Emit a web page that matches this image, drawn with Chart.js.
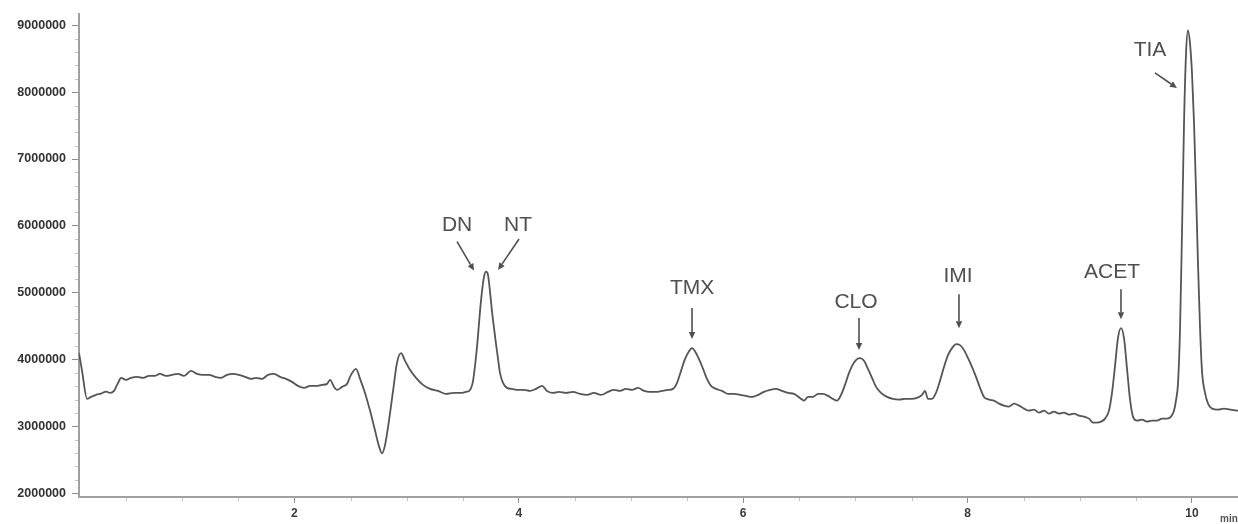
<!DOCTYPE html>
<html>
<head>
<meta charset="utf-8">
<script src="https://cdn.jsdelivr.net/npm/chart.js@4/dist/chart.umd.min.js"></script>
<style>
  html, body { margin: 0; padding: 0; background: #ffffff; }
  #wrap { width: 1238px; height: 524px; overflow: hidden; }
</style>
</head>
<body>
<div id="wrap"><canvas id="chrom" width="1238" height="524"></canvas></div>
<script>
// Retention time (min) of each sampled point of the trace
const retentionTime = [
  0.080, 0.107, 0.152, 0.187, 0.232, 0.276, 0.321, 0.357, 0.392, 0.428,
  0.455, 0.499, 0.544, 0.597, 0.651, 0.704, 0.758, 0.802, 0.856, 0.909,
  0.963, 1.016, 1.078, 1.132, 1.185, 1.239, 1.292, 1.346, 1.399, 1.453,
  1.506, 1.560, 1.613, 1.658, 1.711, 1.765, 1.818, 1.872, 1.925, 1.979,
  2.032, 2.086, 2.139, 2.193, 2.246, 2.291, 2.317, 2.353, 2.380, 2.424,
  2.469, 2.504, 2.549, 2.585, 2.629, 2.674, 2.718, 2.754, 2.781, 2.807,
  2.843, 2.879, 2.914, 2.950, 2.986, 3.030, 3.084, 3.146, 3.209, 3.280,
  3.351, 3.422, 3.494, 3.529, 3.565, 3.592, 3.619, 3.636, 3.654, 3.672,
  3.690, 3.708, 3.725, 3.743, 3.761, 3.779, 3.797, 3.815, 3.832, 3.859,
  3.895, 3.939, 3.993, 4.046, 4.100, 4.153, 4.207, 4.251, 4.305, 4.358,
  4.421, 4.483, 4.545, 4.608, 4.670, 4.733, 4.795, 4.848, 4.902, 4.955,
  5.009, 5.062, 5.116, 5.169, 5.223, 5.276, 5.330, 5.374, 5.410, 5.446,
  5.481, 5.517, 5.544, 5.570, 5.606, 5.642, 5.677, 5.713, 5.758, 5.811,
  5.865, 5.918, 5.971, 6.025, 6.078, 6.132, 6.185, 6.239, 6.292, 6.346,
  6.399, 6.453, 6.506, 6.542, 6.578, 6.622, 6.667, 6.711, 6.756, 6.800,
  6.836, 6.872, 6.907, 6.943, 6.979, 7.014, 7.041, 7.077, 7.112, 7.148,
  7.184, 7.228, 7.282, 7.335, 7.389, 7.442, 7.496, 7.549, 7.594, 7.620,
  7.647, 7.683, 7.718, 7.754, 7.790, 7.825, 7.861, 7.897, 7.932, 7.968,
  8.004, 8.039, 8.075, 8.111, 8.146, 8.191, 8.235, 8.280, 8.324, 8.369,
  8.414, 8.458, 8.503, 8.547, 8.592, 8.636, 8.681, 8.725, 8.770, 8.815,
  8.859, 8.904, 8.948, 8.993, 9.037, 9.082, 9.118, 9.153, 9.189, 9.225,
  9.260, 9.287, 9.314, 9.340, 9.367, 9.394, 9.421, 9.447, 9.474, 9.510,
  9.554, 9.599, 9.643, 9.688, 9.733, 9.777, 9.813, 9.840, 9.857, 9.875,
  9.893, 9.911, 9.929, 9.947, 9.964, 9.982, 10.000, 10.018, 10.036, 10.053,
  10.071, 10.089, 10.116, 10.143, 10.178, 10.232, 10.285, 10.339, 10.410
];

// Detector response (counts) at each retention time
const signalCounts = [
  4100000, 3830000, 3410000, 3440000, 3470000, 3490000, 3520000, 3500000, 3530000, 3650000,
  3725000, 3695000, 3725000, 3740000, 3725000, 3755000, 3755000, 3785000, 3755000, 3770000,
  3785000, 3755000, 3830000, 3785000, 3770000, 3770000, 3740000, 3725000, 3770000, 3785000,
  3770000, 3740000, 3710000, 3725000, 3710000, 3770000, 3785000, 3740000, 3710000, 3665000,
  3605000, 3575000, 3605000, 3605000, 3620000, 3635000, 3695000, 3590000, 3545000, 3590000,
  3635000, 3770000, 3860000, 3710000, 3500000, 3235000, 2940000, 2700000, 2595000, 2715000,
  3085000, 3530000, 3950000, 4095000, 3980000, 3845000, 3725000, 3620000, 3560000, 3530000,
  3485000, 3500000, 3500000, 3515000, 3545000, 3680000, 4050000, 4350000, 4720000, 5020000,
  5240000, 5315000, 5270000, 5020000, 4720000, 4470000, 4230000, 4005000, 3800000, 3650000,
  3575000, 3560000, 3545000, 3545000, 3530000, 3560000, 3605000, 3530000, 3500000, 3515000,
  3500000, 3515000, 3485000, 3470000, 3500000, 3470000, 3515000, 3545000, 3530000, 3560000,
  3545000, 3575000, 3530000, 3515000, 3515000, 3530000, 3545000, 3560000, 3650000, 3830000,
  4005000, 4125000, 4170000, 4125000, 4005000, 3860000, 3710000, 3605000, 3560000, 3530000,
  3485000, 3485000, 3470000, 3455000, 3440000, 3470000, 3515000, 3545000, 3560000, 3530000,
  3500000, 3485000, 3425000, 3385000, 3440000, 3440000, 3485000, 3485000, 3455000, 3410000,
  3385000, 3470000, 3620000, 3800000, 3930000, 4005000, 4020000, 3980000, 3860000, 3725000,
  3590000, 3500000, 3440000, 3410000, 3400000, 3410000, 3410000, 3425000, 3470000, 3530000,
  3410000, 3410000, 3500000, 3680000, 3890000, 4065000, 4170000, 4230000, 4215000, 4140000,
  4020000, 3890000, 3740000, 3575000, 3440000, 3400000, 3385000, 3340000, 3310000, 3295000,
  3340000, 3310000, 3265000, 3235000, 3250000, 3205000, 3235000, 3190000, 3220000, 3190000,
  3205000, 3175000, 3190000, 3160000, 3145000, 3115000, 3055000, 3055000, 3070000, 3115000,
  3235000, 3500000, 3905000, 4320000, 4470000, 4320000, 3860000, 3410000, 3145000, 3085000,
  3100000, 3070000, 3085000, 3085000, 3115000, 3115000, 3145000, 3235000, 3385000, 3635000,
  4425000, 5910000, 7545000, 8585000, 8925000, 8735000, 8285000, 7545000, 6505000, 5465000,
  4500000, 3830000, 3500000, 3340000, 3265000, 3250000, 3265000, 3250000, 3235000
];

// Axis tick labels
const yTickValues = [2000000, 3000000, 4000000, 5000000, 6000000, 7000000, 8000000, 9000000];
const xTickValues = [2, 4, 6, 8, 10];

// Compound labels and the point each arrow points at (min, counts)
const peakNames  = ['DN', 'NT', 'TMX', 'CLO', 'IMI', 'ACET', 'TIA'];
const peakTipTime   = [3.601, 3.815, 5.544, 7.032, 7.923, 9.367, 9.866];
const peakTipSignal = [5330000, 5340000, 4305000, 4141000, 4468000, 4602000, 8064000];

// Arrow tail and label placement relative to the arrow tip (px)
const arrowTail = [[-17, -29], [21, -31], [0, -31], [0, -32], [0, -34], [0, -30], [-22, -15]];
const labelPos  = [[-17, -45], [20, -45], [0, -51], [-3, -48], [-1, -52], [-9, -47], [-27, -38]];

const points = retentionTime.map((t, i) => ({ x: t, y: signalCounts[i] }));

const INK = '#4f4f4f';
const AXIS = '#a0a0a0';

// Short minor ticks along both axes
const minorTicks = {
  id: 'minorTicks',
  afterDraw(chart) {
    const { ctx, scales: { x, y }, chartArea: a } = chart;
    ctx.save();
    ctx.strokeStyle = '#c4c4c4';
    ctx.lineWidth = 1;
    for (let v = 2200000; v < 9200000; v += 200000) {
      if (v % 1000000 === 0) continue;
      const py = Math.round(y.getPixelForValue(v)) + 0.5;
      if (py < a.top || py > a.bottom) continue;
      ctx.beginPath();
      ctx.moveTo(a.left - 4, py);
      ctx.lineTo(a.left - 1, py);
      ctx.stroke();
    }
    for (let k = 1; k <= 20; k++) {
      const v = k * 0.5;
      if (v % 2 === 0) continue;
      const px = Math.round(x.getPixelForValue(v)) + 0.5;
      if (px < a.left || px > a.right) continue;
      ctx.beginPath();
      ctx.moveTo(px, a.bottom + 1);
      ctx.lineTo(px, a.bottom + 4);
      ctx.stroke();
    }
    // unit label at the end of the time axis
    ctx.fillStyle = '#555';
    ctx.font = 'bold 10px "Liberation Sans", Arial, sans-serif';
    ctx.textAlign = 'left';
    ctx.textBaseline = 'middle';
    ctx.fillText('min', a.right - 18, a.bottom + 22);
    ctx.restore();
  }
};

// Compound names with arrows pointing at their peaks
const peakArrows = {
  id: 'peakArrows',
  afterDatasetsDraw(chart) {
    const { ctx, scales: { x, y } } = chart;
    ctx.save();
    ctx.strokeStyle = INK;
    ctx.fillStyle = INK;
    ctx.lineWidth = 1.6;
    ctx.font = '21px "Liberation Sans", Arial, sans-serif';
    ctx.textAlign = 'center';
    ctx.textBaseline = 'middle';
    peakNames.forEach((name, i) => {
      const tx = x.getPixelForValue(peakTipTime[i]);
      const ty = y.getPixelForValue(peakTipSignal[i]);
      const sx = tx + arrowTail[i][0];
      const sy = ty + arrowTail[i][1];
      const ang = Math.atan2(ty - sy, tx - sx);
      const head = 7, half = 3.2;
      const bx = tx - head * Math.cos(ang);
      const by = ty - head * Math.sin(ang);
      ctx.beginPath();
      ctx.moveTo(sx, sy);
      ctx.lineTo(bx, by);
      ctx.stroke();
      ctx.beginPath();
      ctx.moveTo(tx, ty);
      ctx.lineTo(bx + half * Math.sin(ang), by - half * Math.cos(ang));
      ctx.lineTo(bx - half * Math.sin(ang), by + half * Math.cos(ang));
      ctx.closePath();
      ctx.fill();
      ctx.fillText(name, tx + labelPos[i][0], ty + labelPos[i][1]);
    });
    ctx.restore();
  }
};

new Chart(document.getElementById('chrom'), {
  type: 'line',
  data: {
    datasets: [{
      data: points,
      borderColor: '#555555',
      borderWidth: 1.8,
      pointRadius: 0,
      fill: false,
      tension: 0,
      cubicInterpolationMode: 'monotone'
    }]
  },
  options: {
    responsive: false,
    animation: false,
    devicePixelRatio: 1,
    layout: { padding: { top: 10, left: 0, right: 0, bottom: 0 } },
    plugins: { legend: { display: false }, tooltip: { enabled: false } },
    scales: {
      x: {
        type: 'linear',
        min: 0.08,
        max: 10.41,
        afterBuildTicks: s => { s.ticks = xTickValues.map(v => ({ value: v })); },
        afterFit: s => { s.height = 27; },
        grid: { drawOnChartArea: false, tickLength: 6, tickColor: '#8c8c8c', tickWidth: 1 },
        border: { color: AXIS, width: 2 },
        ticks: {
          padding: 3,
          maxRotation: 0,
          color: '#3a3a3a',
          font: { family: '"Liberation Sans", Arial, sans-serif', size: 12, weight: 'bold' },
          callback: v => String(v)
        }
      },
      y: {
        min: 1942000,
        max: 9178000,
        afterBuildTicks: s => { s.ticks = yTickValues.map(v => ({ value: v })); },
        afterFit: s => { s.width = 79; },
        grid: { drawOnChartArea: false, tickLength: 7, tickColor: '#8c8c8c', tickWidth: 1 },
        border: { color: AXIS, width: 2 },
        ticks: {
          padding: 6,
          color: '#333333',
          font: { family: '"Liberation Sans", Arial, sans-serif', size: 12.5, weight: 'bold' },
          callback: v => v.toFixed(0)
        }
      }
    }
  },
  plugins: [minorTicks, peakArrows]
});
</script>
</body>
</html>
